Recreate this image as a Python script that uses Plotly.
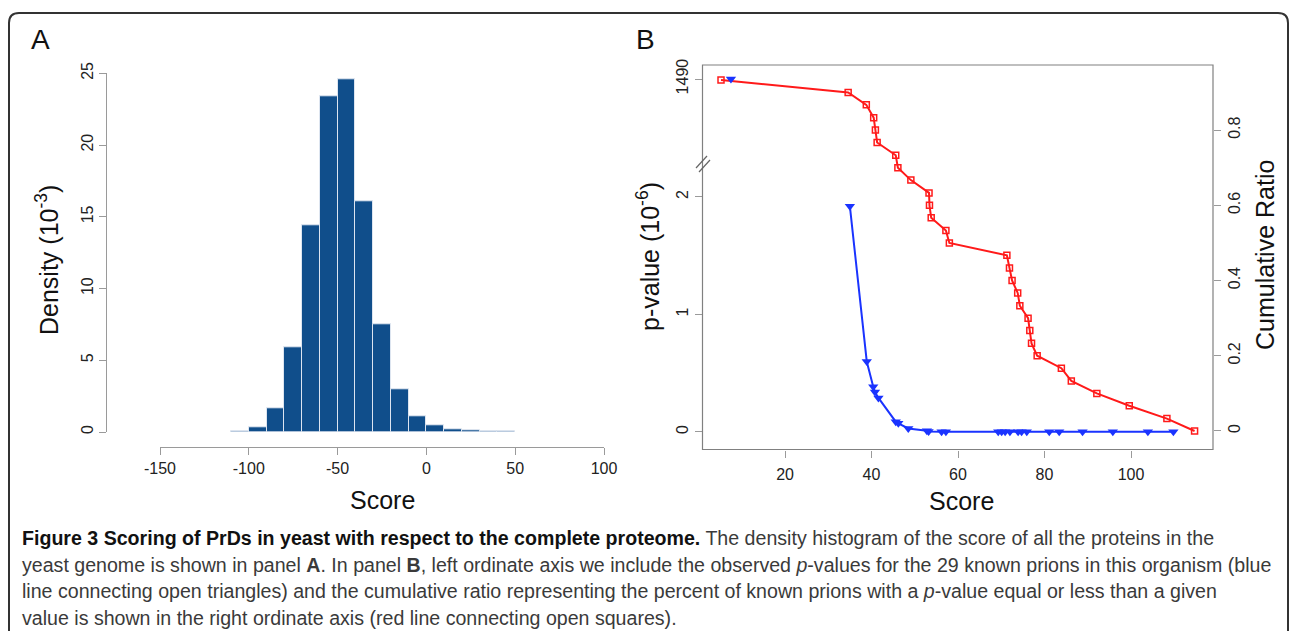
import plotly.graph_objects as go

W, H = 1290, 631

# ---------------- Panel A data (density histogram, units 10^-3) ----------------
bin_centers = [-105, -95, -85, -75, -65, -55, -45, -35, -25, -15, -5, 5, 15, 25, 35, 45]
density = [0.05, 0.33, 1.68, 5.9, 14.4, 23.4, 24.6, 16.1, 7.5, 3.0, 1.1, 0.49, 0.19, 0.09, 0.05, 0.02]
hist_xticks = [-150, -100, -50, 0, 50, 100]
hist_xlabels = ["-150", "-100", "-50", "0", "50", "100"]
hist_yticks = [0, 5, 10, 15, 20, 25]

# ---------------- Panel B data ----------------
ratio_score = [5.2, 34.6, 38.8, 40.5, 40.9, 41.3, 45.6, 46.1, 49.1, 53.3, 53.4, 53.8, 57.2, 58.0,
               71.3, 71.9, 72.5, 73.8, 74.3, 76.2, 76.6, 77.0, 78.3, 83.9, 86.2, 92.1, 99.6, 108.3, 114.7]
ratio_value = [0.933, 0.9, 0.867, 0.833, 0.8, 0.767, 0.733, 0.7, 0.667, 0.633, 0.6, 0.567, 0.533, 0.5,
               0.467, 0.433, 0.4, 0.367, 0.333, 0.3, 0.267, 0.233, 0.2, 0.167, 0.133, 0.1, 0.067, 0.033, 0.0]
pval_score = [7.5, 35.0, 38.9, 40.4, 40.8, 41.6, 45.6, 46.2, 48.5, 52.8, 53.2, 56.2, 57.2,
              69.3, 70.1, 70.9, 72.0, 73.9, 74.7, 75.9, 81.1, 83.4, 88.8, 95.8, 103.9, 109.8]
pval_value = [1490, 1.92, 0.60, 0.386, 0.34, 0.29, 0.088, 0.074, 0.03, 0.01, 0.005, 0.003, 0.002,
              0.001, 0.001, 0.001, 0.001, 0.001, 0.001, 0.001, 0.001, 0.001, 0.001, 0.001, 0.001, 0.001]
b_xticks = [20, 40, 60, 80, 100]
b_left_low_ticks = [0, 1, 2]
b_left_high_ticks = [1490]
b_right_ticks = [0, 0.2, 0.4, 0.6, 0.8]
b_right_labels = ["0", "0.2", "0.4", "0.6", "0.8"]
BREAK_LEVEL = 100  # values above this are drawn on the upper (broken) segment


def px(x):
    return x / W


def py(y):
    return 1 - y / H


FONT = "Liberation Sans, Arial, sans-serif"
AX_COL = "#9a9a9a"
TICK_FONT = dict(family=FONT, size=16, color="#222")

fig = go.Figure()

# Panel A histogram
fig.add_trace(go.Bar(
    x=bin_centers, y=density, width=10,
    marker=dict(color="#104E8B", line=dict(color="rgba(225,232,242,0.95)", width=1)),
    xaxis="x", yaxis="y", showlegend=False, hoverinfo="skip"))

# Panel B: cumulative ratio (right axis)
fig.add_trace(go.Scatter(
    x=ratio_score, y=ratio_value, mode="lines+markers",
    line=dict(color="#ff1a1a", width=2),
    marker=dict(symbol="square-open", size=6, color="#ff1a1a", line=dict(width=1.5)),
    xaxis="x2", yaxis="y2", showlegend=False))

# Panel B: p-values (left broken axis)
low_x = [s for s, v in zip(pval_score, pval_value) if v < BREAK_LEVEL]
low_y = [v for v in pval_value if v < BREAK_LEVEL]
high_x = [s for s, v in zip(pval_score, pval_value) if v >= BREAK_LEVEL]
high_y = [v for v in pval_value if v >= BREAK_LEVEL]

fig.add_trace(go.Scatter(
    x=low_x, y=low_y, mode="lines+markers",
    line=dict(color="#1a33ff", width=2),
    marker=dict(symbol="triangle-down", size=9, color="#1a33ff"),
    xaxis="x2", yaxis="y3", showlegend=False))
fig.add_trace(go.Scatter(
    x=high_x, y=high_y, mode="markers",
    marker=dict(symbol="triangle-down", size=9, color="#1a33ff"),
    xaxis="x2", yaxis="y4", showlegend=False, cliponaxis=False))

common_ax = dict(showgrid=False, zeroline=False, ticks="outside", ticklen=7, automargin=False,
                 tickcolor=AX_COL, tickfont=TICK_FONT, linecolor=AX_COL, linewidth=1)

box_l, box_r, box_b, box_t = 702.5, 1213, 449.5, 65
break_y = 163

fig.update_layout(
    width=W, height=H, margin=dict(l=0, r=0, t=0, b=0, pad=0, autoexpand=False),
    paper_bgcolor="white", plot_bgcolor="rgba(0,0,0,0)",
    bargap=0,
    xaxis=dict(domain=[px(160), px(604)], range=[-150, 100], anchor="free", position=py(447),
               tickvals=hist_xticks, ticktext=hist_xlabels, showline=True, **common_ax),
    yaxis=dict(domain=[py(432), py(73.3)], range=[0, 25], anchor="free", position=px(106),
               tickvals=hist_yticks, tickangle=-90, showline=True, **common_ax),
    xaxis2=dict(domain=[px(box_l), px(box_r)], range=[0.92, 118.96], anchor="y2",
                tickvals=b_xticks, showline=False, ticklabelstandoff=3, **common_ax),
    yaxis2=dict(domain=[py(box_b), py(box_t)], range=[-0.0492, 0.973], anchor="x2", side="right",
                tickvals=b_right_ticks, ticktext=b_right_labels, tickangle=-90,
                showline=False, **common_ax),
    yaxis3=dict(domain=[py(box_b), py(break_y)], range=[-0.149, 2.289], anchor="x2", side="left",
                tickvals=b_left_low_ticks, tickangle=-90, showline=False, **common_ax),
    yaxis4=dict(domain=[py(break_y), py(box_t)], range=[1400, 1505], anchor="x2", side="left",
                tickvals=b_left_high_ticks, tickangle=-90, showline=False, **common_ax),
)

shapes = []
# box around panel B
shapes.append(dict(type="rect", xref="x2 domain", yref="y2 domain", x0=0, x1=1, y0=0, y1=1,
                   line=dict(color="#808080", width=1.2), layer="above"))
# axis break marks
for dx, dy in [(0, 0), (3, 4)]:
    shapes.append(dict(type="line", xref="paper", yref="paper",
                       x0=px(696 + dx), y0=py(168 + dy), x1=px(707 + dx), y1=py(156 + dy),
                       line=dict(color="#666", width=1.2)))
# rounded outer frame
fl, fr, ft, fb = px(9), px(1288), py(13), py(645)
rx, ry = 10 / W, 10 / H
path = (f"M {fl},{fb} L {fl},{ft - ry} Q {fl},{ft} {fl + rx},{ft} "
        f"L {fr - rx},{ft} Q {fr},{ft} {fr},{ft - ry} L {fr},{fb}")
shapes.append(dict(type="path", xref="paper", yref="paper", path=path,
                   line=dict(color="#333", width=2)))
fig.update_layout(shapes=shapes)

ann = []


def add_text(text, x, y, size, angle=0, color="#111", family=FONT, xanchor="center"):
    ann.append(dict(text=text, x=px(x), y=py(y), xref="paper", yref="paper", showarrow=False,
                    font=dict(family=family, size=size, color=color), textangle=angle,
                    xanchor=xanchor, yanchor="middle"))


add_text("A", 40, 40, 28)
add_text("B", 645, 40, 28)
add_text("Score", 382, 500, 25)
add_text("Score", 961, 501, 25)
add_text("Density (10<sup>-3</sup>)", 47, 260, 25, angle=-90)
add_text("p-value (10<sup>-6</sup>)", 648, 257, 25, angle=-90)
add_text("Cumulative Ratio", 1265, 255, 25, angle=-90)

CAP_FONT = "Liberation Sans, Arial, sans-serif"
CAP_COL = "#3a3a3a"
cap_lines = [
    "<b><span style='color:#111'>Figure 3 Scoring of PrDs in yeast with respect to the complete proteome.</span></b> "
    "The density histogram of the score of all the proteins in the",
    "yeast genome is shown in panel <b>A</b>. In panel <b>B</b>, left ordinate axis we include the observed "
    "<i>p</i>-values for the 29 known prions in this organism (blue",
    "line connecting open triangles) and the cumulative ratio representing the percent of known prions with a "
    "<i>p</i>-value equal or less than a given",
    "value is shown in the right ordinate axis (red line connecting open squares).",
]
for i, line in enumerate(cap_lines):
    add_text(line, 20, 538 + i * 26.7, 19.6, color=CAP_COL, family=CAP_FONT, xanchor="left")

fig.update_layout(annotations=ann)

fig.write_html("out.html")
